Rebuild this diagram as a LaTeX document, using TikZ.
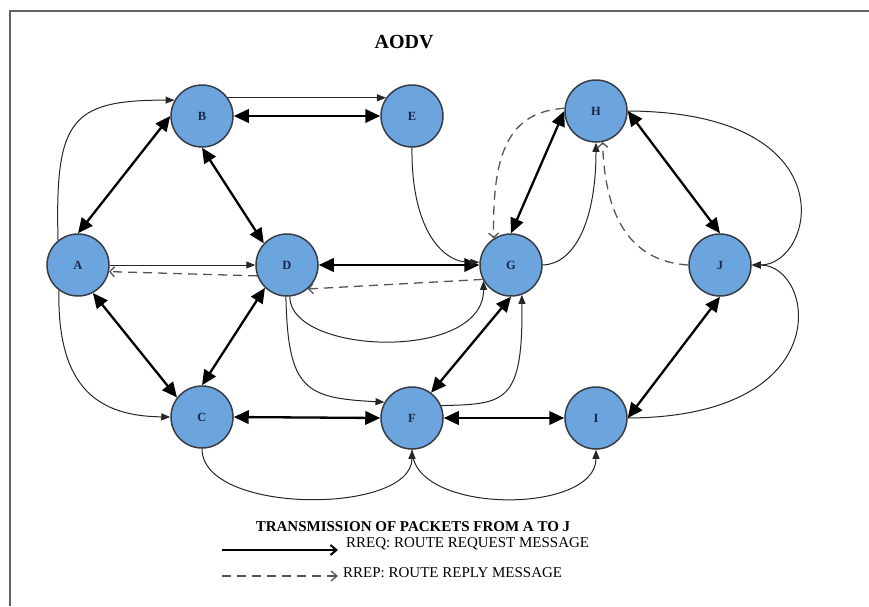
\documentclass[tikz,border=0pt]{standalone}
\usepackage{fontspec}
\setmainfont{Liberation Serif}
\usetikzlibrary{arrows.meta}
\definecolor{nodeblue}{RGB}{108,164,222}
\definecolor{nodeedge}{RGB}{55,60,70}
\definecolor{labelnavy}{RGB}{25,40,75}
\definecolor{framegray}{RGB}{100,100,100}
\definecolor{dashgray}{RGB}{85,85,85}
\begin{document}
\begin{tikzpicture}[x=1pt,y=-1pt,
  netnode/.style={circle,minimum size=62pt,inner sep=0pt,fill=nodeblue,draw=nodeedge,line width=1.5pt,text=labelnavy,font=\bfseries\fontsize{12.5}{12.5}\selectfont},
  thicklink/.style={line width=2.3pt,black,{Triangle[length=15pt,width=13.5pt]}-{Triangle[length=15pt,width=13.5pt]}},
  thinlink/.style={line width=1pt,black!85,-{Triangle[length=9pt,width=7pt]}},
  replylink/.style={line width=1.3pt,dashgray,dash pattern=on 9pt off 6pt,-{Straight Barb[length=4.5pt,width=10pt]}},
  legendtext/.style={inner sep=0pt,font=\fontsize{15}{15}\selectfont}
]
\useasboundingbox (0,0) rectangle (869,606);
\draw[framegray,line width=2pt] (10,606) -- (10,11) -- (869,11);

\node (title) at (404,42) {\bfseries\fontsize{20}{20}\selectfont AODV};

\node[netnode] (A) at (78,265) {A};
\node[netnode] (B) at (202,116) {B};
\node[netnode] (E) at (412,116) {E};
\node[netnode] (H) at (596,111) {H};
\node[netnode] (D) at (287,265) {D};
\node[netnode] (G) at (511,265) {G};
\node[netnode] (J) at (720,265) {J};
\node[netnode] (C) at (202,417) {C};
\node[netnode] (F) at (412,418) {F};
\node[netnode] (I) at (596,418) {I};

% thick two-way links
\draw[thicklink] (A.north) -- (B.west);
\draw[thicklink] (B.south) -- (D.137);
\draw[thicklink] (B.east) -- (E.west);
\draw[thicklink] (A.-62) -- (C.142);
\draw[thicklink] (D.226) -- (C.north);
\draw[thicklink] (D.east) -- (G.west);
\draw[thicklink] (C.east) -- (F.west);
\draw[thicklink] (F.east) -- (I.west);
\draw[thicklink] (F.53) -- (G.south);
\draw[thicklink] (G.north) -- (H.west);
\draw[thicklink] (H.east) -- (J.north);
\draw[thicklink] (I.east) -- (J.south);

% thin one-way links (RREQ)
\draw[thinlink] (A.129) .. controls (55,120) and (70,100) .. (B.150);
\draw[thinlink] (B.35) -- (E.145);
\draw[thinlink] (A.east) -- (D.west);
\draw[thinlink] (A.233) .. controls (57,390) and (100,416) .. (C.west);
\draw[thinlink] (D.-85) .. controls (290,355) and (484,362) .. (G.210);
\draw[thinlink] (D.-92) .. controls (288,390) and (305,398) .. (F.150);
\draw[thinlink] (E.south) .. controls (411,225) and (440,263) .. (G.175);
\draw[thinlink] (G.east) .. controls (575,264) and (596,220) .. (H.south);
\draw[thinlink] (H.east) .. controls (850,112) and (815,265) .. (J.east);
\draw[thinlink] (I.east) .. controls (840,417) and (815,265) .. (J.east);
\draw[thinlink] (F.23) .. controls (505,404) and (523,404) .. (G.-70);
\draw[thinlink] (C.south) .. controls (202,515) and (412,515) .. (F.south);
\draw[thinlink] (F.south) .. controls (412,515) and (596,515) .. (I.south);

% dashed replies (RREP)
\draw[replylink] (D.200) -- (A.-12);
\draw[replylink] (G.207) -- (D.-49);
\draw[replylink] (H.175) .. controls (510,112) and (492,150) .. (G.123);
\draw[replylink] (J.west) .. controls (640,262) and (605,230) .. (H.-78);

% legend
\node (legtitle) at (413,527) {\bfseries\fontsize{15}{15}\selectfont TRANSMISSION OF PACKETS FROM A TO J};
\coordinate (reqs) at (222,550);
\coordinate (reqe) at (338,550);
\draw[line width=2pt,-{Straight Barb[length=6pt,width=10pt]}] (reqs) -- (reqe);
\node[legendtext,anchor=west] (rreq) at (346,544) {RREQ: ROUTE REQUEST MESSAGE};
\coordinate (reps) at (222,576);
\coordinate (repe) at (338,576);
\draw[replylink,-{Straight Barb[length=6pt,width=10pt]}] (reps) -- (repe);
\node[legendtext,anchor=west] (rrep) at (343,573) {RREP: ROUTE REPLY MESSAGE};
\end{tikzpicture}
\end{document}
